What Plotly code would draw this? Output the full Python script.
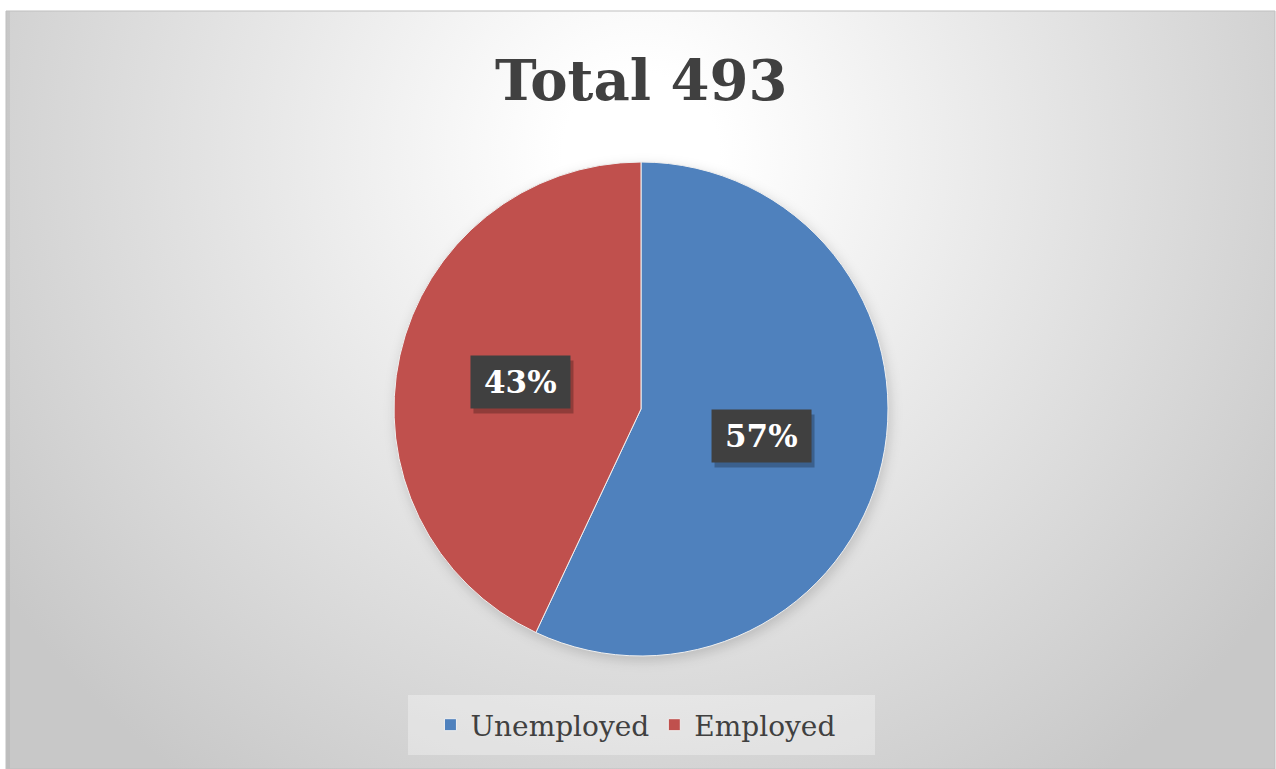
import base64
import math
import plotly.graph_objects as go

# ---- data ----
categories = ["Unemployed", "Employed"]
counts = [281, 212]
colors = ["#4F81BD", "#C0504D"]

W, H = 1276, 769
total = sum(counts)
pcts = [round(c / total * 100) for c in counts]

# ---- layout constants (pixels) ----
BOX_L, BOX_T, BOX_R, BOX_B = 6, 11, 1275, 769
PIE_CX, PIE_CY, PIE_R = 641, 409, 247
LBL_W, LBL_H = 100, 53

def px_x(x):
    return x / W

def px_y(y):
    return 1 - y / H

bw, bh = BOX_R - BOX_L, BOX_B - BOX_T
svg = (
    f'<svg xmlns="http://www.w3.org/2000/svg" width="{bw}" height="{bh}" viewBox="0 0 {bw} {bh}" preserveAspectRatio="none">'
    f'<defs><radialGradient id="g" gradientUnits="userSpaceOnUse" cx="{bw/2}" cy="140" r="775">'
    '<stop offset="0" stop-color="#ffffff"/><stop offset="0.1" stop-color="#ffffff"/>'
    '<stop offset="1" stop-color="#c8c8c8"/></radialGradient>'
    '<filter id="b" x="-20%" y="-20%" width="140%" height="140%"><feGaussianBlur stdDeviation="6"/></filter></defs>'
    '<rect width="100%" height="100%" fill="url(#g)"/>'
    '<rect x="0" y="0" width="4" height="100%" fill="rgba(0,0,0,0.05)"/>'
    f'<circle cx="{PIE_CX-BOX_L+2}" cy="{PIE_CY-BOX_T+4}" r="{PIE_R+1}" fill="rgba(0,0,0,0.15)" filter="url(#b)"/>'
    '</svg>'
)
bg_uri = "data:image/svg+xml;base64," + base64.b64encode(svg.encode()).decode()

fig = go.Figure()
fig.add_trace(go.Pie(
    labels=categories,
    values=counts,
    marker=dict(colors=colors, line=dict(color="#f0f0f0", width=1)),
    sort=False,
    direction="clockwise",
    rotation=0,
    textinfo="none",
    hoverinfo="label+value+percent",
    domain=dict(x=[px_x(PIE_CX - 400), px_x(PIE_CX + 400)],
                y=[px_y(PIE_CY + PIE_R), px_y(PIE_CY - PIE_R)]),
))

# label boxes positioned at mid-angle of each slice, half radius
annotations = []
shapes = []
cum = 0
for c, p in zip(counts, pcts):
    mid = (cum + c / 2) / total * 2 * math.pi
    cum += c
    lx = PIE_CX + 0.5 * PIE_R * math.sin(mid)
    ly = PIE_CY - 0.5 * PIE_R * math.cos(mid)
    # soft drop shadow + dark box
    shapes.append(dict(type="rect", xref="paper", yref="paper",
                       xsizemode="pixel", ysizemode="pixel",
                       xanchor=px_x(lx), yanchor=px_y(ly),
                       x0=-LBL_W / 2 + 3, x1=LBL_W / 2 + 3, y0=-LBL_H / 2 - 5, y1=LBL_H / 2 - 5,
                       line=dict(width=0), fillcolor="rgba(0,0,0,0.25)"))
    shapes.append(dict(type="rect", xref="paper", yref="paper",
                       xsizemode="pixel", ysizemode="pixel",
                       xanchor=px_x(lx), yanchor=px_y(ly),
                       x0=-LBL_W / 2, x1=LBL_W / 2, y0=-LBL_H / 2, y1=LBL_H / 2,
                       line=dict(width=0), fillcolor="#404040"))
    annotations.append(dict(
        x=px_x(lx), y=px_y(ly), xref="paper", yref="paper",
        text=f"{p}%", showarrow=False, yanchor="middle",
        font=dict(family="DejaVu Serif", size=31, color="white", weight="bold"),
    ))

annotations.append(dict(
    x=0.5 + (BOX_L / 2) / W, y=px_y(80), xref="paper", yref="paper",
    text=f"Total {total}", showarrow=False, yanchor="middle",
    font=dict(family="DejaVu Serif", size=56, color="#404040", weight="bold"),
))

shapes = [
    dict(type="rect", xref="paper", yref="paper",
         x0=px_x(BOX_L), x1=px_x(BOX_R), y0=px_y(BOX_B), y1=px_y(BOX_T),
         line=dict(color="#bfbfbf", width=1), fillcolor="rgba(0,0,0,0)", layer="below"),
    dict(type="rect", xref="paper", yref="paper",
         x0=px_x(408), x1=px_x(875), y0=px_y(755), y1=px_y(695),
         line=dict(width=0), fillcolor="rgba(255,255,255,0.32)", layer="below"),
] + shapes

fig.update_layout(
    width=W, height=H,
    margin=dict(l=0, r=0, t=0, b=0),
    paper_bgcolor="white",
    plot_bgcolor="rgba(0,0,0,0)",
    images=[dict(source=bg_uri, xref="paper", yref="paper",
                 x=px_x(BOX_L), y=px_y(BOX_T), sizex=bw / W, sizey=bh / H,
                 xanchor="left", yanchor="top", sizing="stretch", layer="below")],
    shapes=shapes,
    showlegend=True,
    legend=dict(orientation="h", x=0.498, xanchor="center", y=px_y(725), yanchor="middle",
                bgcolor="rgba(0,0,0,0)",
                font=dict(family="DejaVu Serif", size=28, color="#404040"),
                itemclick=False),
    annotations=annotations,
)

fig.write_html("out.html")
